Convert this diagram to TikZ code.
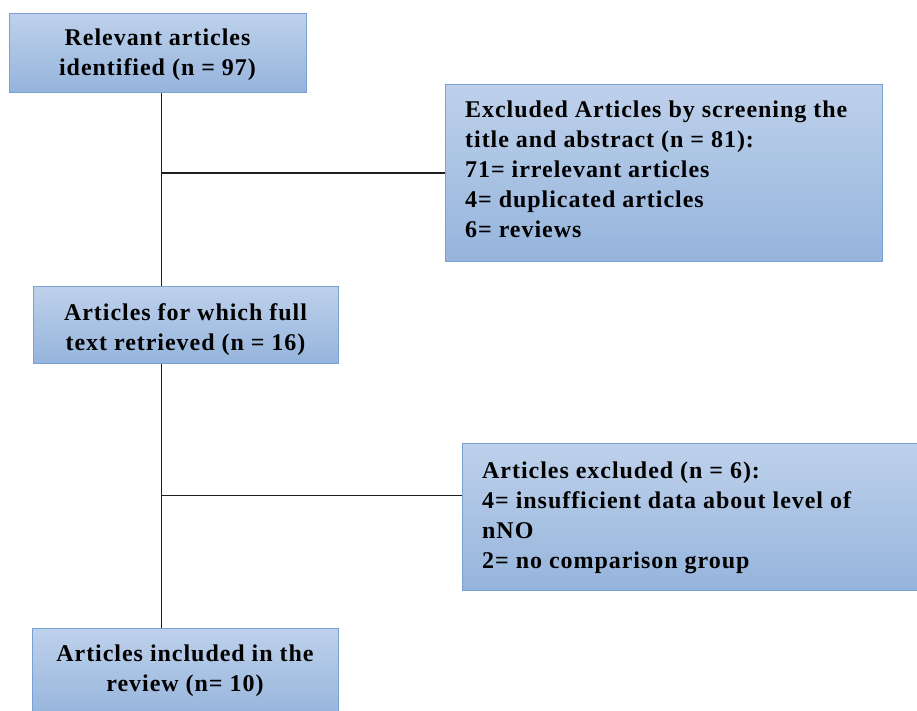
\documentclass[tikz,border=0pt]{standalone}
\usepackage{fontspec}
\setmainfont{Liberation Serif}
\usetikzlibrary{calc}
\definecolor{boxtop}{RGB}{190,209,235}
\definecolor{boxbot}{RGB}{149,180,220}
\definecolor{boxline}{RGB}{122,160,210}
\definecolor{conn}{RGB}{30,30,30}
\newcommand{\boxfont}{\fontsize{24}{30}\selectfont\bfseries\addfontfeature{LetterSpace=4}}
\begin{document}
\begin{tikzpicture}[x=1pt,y=1pt,
  box/.style={draw=boxline, line width=1.2pt, top color=boxtop, bottom color=boxbot,
    anchor=north west, inner sep=0pt, font=\boxfont},
  ctxt/.style={align=center, inner sep=0pt, font=\boxfont},
  txt/.style={anchor=north west, align=left, inner sep=0pt, font=\boxfont},
  conn/.style={draw=conn, line width=1.4pt}]
\useasboundingbox (0,0) rectangle (917,-711);
\node[box, minimum width=297, minimum height=79] (b1) at (9,-13) {};
\node[ctxt] (t1) at (157.5,-55) {Relevant articles\\identified (n = 97)};
\node[box, minimum width=437, minimum height=177] (b2) at (445,-84) {};
\node[txt] (t2) at (465,-101)
  {Excluded Articles by screening the\\title and abstract (n = 81):\\71= irrelevant articles\\4= duplicated articles\\6= reviews};
\node[box, minimum width=305, minimum height=77] (b3) at (33,-286) {};
\node[ctxt] (t3) at (185.5,-330) {Articles for which full\\text retrieved (n = 16)};
\node[box, minimum width=460, minimum height=147] (b4) at (462,-443) {};
\node[txt] (t4) at (482,-462)
  {Articles excluded (n = 6):\\4= insufficient data about level of\\nNO\\2= no comparison group};
\node[box, minimum width=306, minimum height=90] (b5) at (32,-628) {};
\node[ctxt] (t5) at (185,-671)
  {Articles included in the\\review (n= 10)};
\coordinate (v1) at ([xshift=3.5pt]b1.south);
\coordinate (v2) at ([xshift=3.5pt]b1.south |- b3.south);
\coordinate (e4) at ([yshift=21.5pt]b4.west);
\draw[conn] (v1) -- (v1 |- b3.north);
\draw[conn] (v2) -- (v2 |- b5.north);
\draw[conn] (v1 |- b2.west) -- (b2.west);
\draw[conn] (v2 |- e4) -- (e4);
\end{tikzpicture}
\end{document}
